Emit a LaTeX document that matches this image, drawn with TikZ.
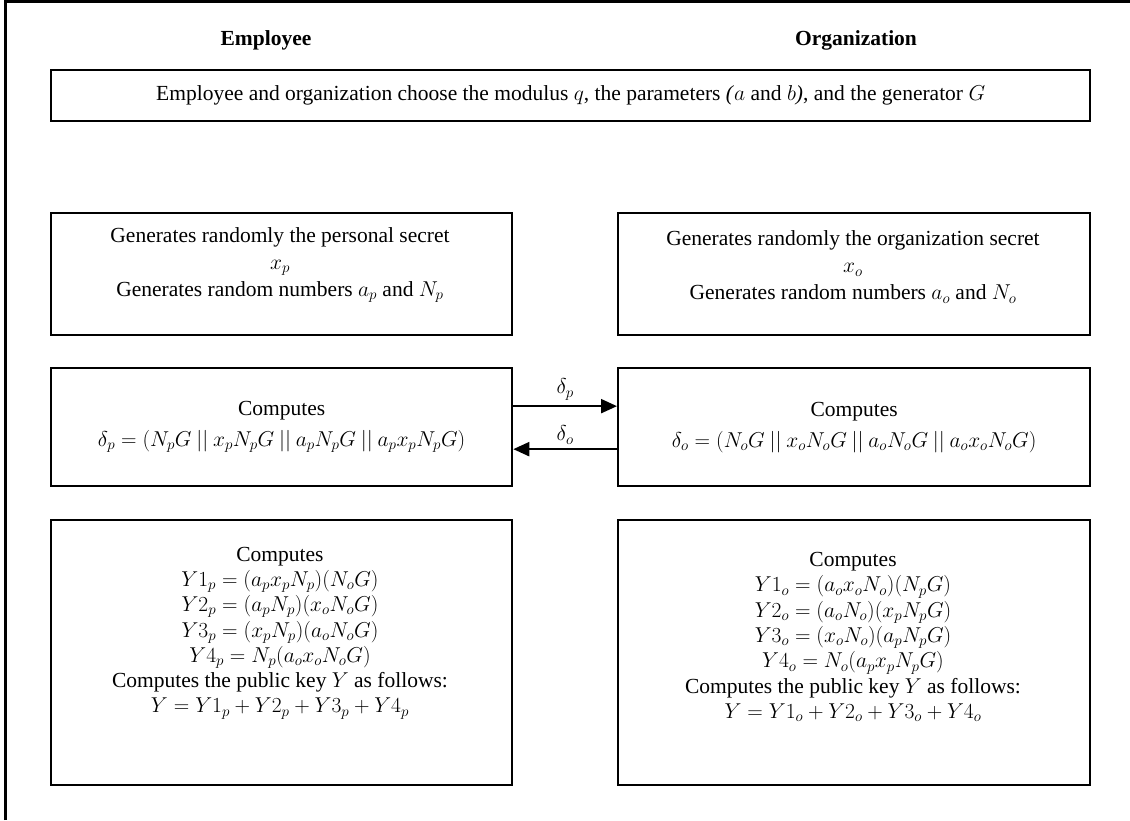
\documentclass[tikz,border=0pt]{standalone}
\usepackage{fix-cm}
\usepackage{fontspec}
\setmainfont{Liberation Serif}
\usetikzlibrary{arrows.meta}
\begin{document}
\begin{tikzpicture}[x=1pt,y=-1pt,
  box/.style={draw,line width=2.3pt,anchor=north west,inner sep=0pt},
  txt/.style={align=center,inner sep=0pt,font=\fontsize{21.5}{27}\selectfont},
  txtb/.style={align=center,inner sep=0pt,font=\fontsize{21.5}{25.3}\selectfont},
  head/.style={inner sep=0pt,font=\bfseries\fontsize{21.5}{24}\selectfont},
  arr/.style={line width=2.2pt,-{Triangle[length=16pt,width=14pt]}},
  lab/.style={inner sep=0pt,font=\fontsize{21.5}{24}\selectfont}]
\useasboundingbox (0,0) rectangle (1130,820);
\draw[line width=3pt] (5.5,820) -- (5.5,1.5) -- (1130,1.5);

\node[head] (hE) at (266,40) {Employee};
\node[head] (hO) at (856,40) {Organization};

\node[box,minimum width=1039pt,minimum height=51pt] (top) at (50,69) {};
\node[txt] (ttop) at (top.center) {Employee and organization choose the modulus $q$, the parameters \textit{(}$a$ and $b$\textit{)}, and the generator $G$};

\node[box,minimum width=461pt,minimum height=122pt] (r2l) at (50,212) {};
\node[box,minimum width=472pt,minimum height=122pt] (r2r) at (617,212) {};
\node[txt] (t2l) at (280,265) {Generates randomly the personal secret\\ $x_p$\\ Generates random numbers $a_p$ and $N_p$};
\node[txt] (t2r) at (853,267) {Generates randomly the organization secret\\ $x_o$\\ Generates random numbers $a_o$ and $N_o$};

\node[box,minimum width=461pt,minimum height=118pt] (r3l) at (50,367) {};
\node[box,minimum width=472pt,minimum height=118pt] (r3r) at (617,367) {};
\node[txt,font=\fontsize{21.5}{31}\selectfont] (t3l) at (r3l.center) {Computes\\ $\delta_p = (N_pG \mathbin{||} x_pN_pG \mathbin{||} a_pN_pG \mathbin{||} a_px_pN_pG)$};
\node[txt,font=\fontsize{21.5}{31}\selectfont] (t3r) at (r3r.center) {Computes\\ $\delta_o = (N_oG \mathbin{||} x_oN_oG \mathbin{||} a_oN_oG \mathbin{||} a_ox_oN_oG)$};

\draw[arr] ([yshift=21pt]r3l.east) -- ([yshift=21pt]r3r.west) node[midway,above=5pt,lab] (dp) {$\delta_p$};
\draw[arr] ([yshift=-22pt]r3r.west) -- ([yshift=-22pt]r3l.east) node[midway,above=4pt,lab] (do) {$\delta_o$};

\node[box,minimum width=461pt,minimum height=265pt] (r4l) at (50,519) {};
\node[box,minimum width=472pt,minimum height=265pt] (r4r) at (617,519) {};
\node[txtb] (t4l) at (280,633) {Computes\\
  $Y1_p = (a_px_pN_p)(N_oG)$\\
  $Y2_p = (a_pN_p)(x_oN_oG)$\\
  $Y3_p = (x_pN_p)(a_oN_oG)$\\
  $Y4_p = N_p(a_ox_oN_oG)$\\
  Computes the public key $Y$ as follows:\\
  $Y = Y1_p + Y2_p + Y3_p + Y4_p$};
\node[txtb] (t4r) at (853,637) {Computes\\
  $Y1_o = (a_ox_oN_o)(N_pG)$\\
  $Y2_o = (a_oN_o)(x_pN_pG)$\\
  $Y3_o = (x_oN_o)(a_pN_pG)$\\
  $Y4_o = N_o(a_px_pN_pG)$\\
  Computes the public key $Y$ as follows:\\
  $Y = Y1_o + Y2_o + Y3_o + Y4_o$};
\end{tikzpicture}
\end{document}
